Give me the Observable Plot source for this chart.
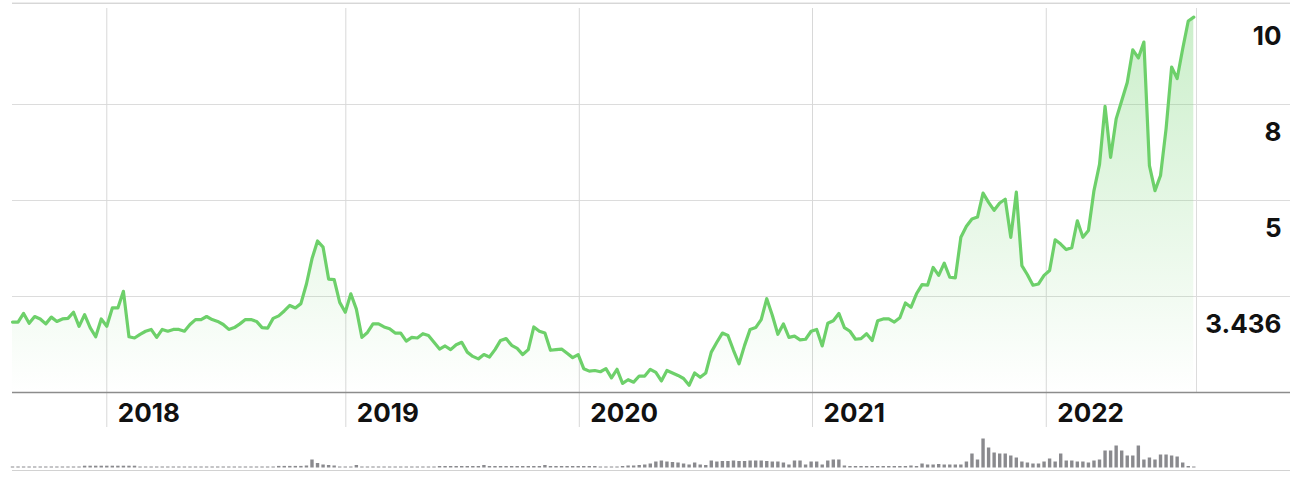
<!DOCTYPE html>
<html>
<head>
<meta charset="utf-8">
<script src="https://cdn.jsdelivr.net/npm/d3@7"></script>
<script src="https://cdn.jsdelivr.net/npm/@observablehq/plot@0.6"></script>
<style>
  html, body { margin: 0; padding: 0; background: #fff; }
  svg { display: block; }
</style>
</head>
<body>
<div id="chart"></div>
<script>
// Price per period
const prices = [
3.02,3.02,3.16,3.00,3.11,3.07,2.99,3.10,3.03,3.07,
3.08,3.18,2.95,3.14,2.93,2.78,3.07,2.95,3.25,3.25,
3.52,2.78,2.76,2.82,2.87,2.90,2.77,2.90,2.87,2.90,
2.90,2.87,2.98,3.06,3.06,3.11,3.06,3.03,2.98,2.90,
2.93,2.99,3.06,3.06,3.03,2.93,2.92,3.08,3.12,3.20,
3.29,3.25,3.32,3.64,4.05,4.34,4.24,3.72,3.71,3.34,
3.18,3.48,3.23,2.77,2.85,2.99,2.99,2.94,2.91,2.84,
2.84,2.71,2.77,2.76,2.83,2.80,2.69,2.58,2.63,2.57,
2.65,2.69,2.53,2.46,2.42,2.49,2.45,2.57,2.72,2.75,
2.64,2.59,2.49,2.57,2.94,2.87,2.84,2.56,2.57,2.58,
2.51,2.44,2.49,2.26,2.22,2.23,2.21,2.26,2.11,2.25,
2.02,2.08,2.04,2.14,2.14,2.25,2.20,2.06,2.23,2.19,
2.15,2.10,1.99,2.19,2.12,2.19,2.53,2.69,2.84,2.80,
2.56,2.34,2.64,2.90,2.93,3.06,3.40,3.13,2.82,2.99,
2.77,2.79,2.73,2.74,2.87,2.90,2.63,3.00,3.04,3.16,
2.93,2.87,2.74,2.75,2.83,2.72,3.04,3.07,3.07,3.02,
3.09,3.33,3.26,3.48,3.63,3.62,3.91,3.78,3.98,3.75,
3.74,4.40,4.58,4.70,4.73,5.23,4.97,4.84,4.96,5.04,
4.40,5.26,3.94,3.79,3.62,3.64,3.78,3.86,4.36,4.29,
4.20,4.23,4.67,4.40,4.51,5.31,6.13,7.94,6.35,7.55,
8.08,8.46,9.14,8.97,9.30,6.09,5.31,5.78,7.24,8.78,
8.54,9.16,9.74,9.82
];

// Volume per period (relative units)
const volume = [
1,1,1,1,1,1,1,1,1,1,1,1,1,
1.8,1.8,1.8,1.8,1.8,1.8,1.8,1.8,1.8,1.8,
1,1,1,1,1,1,1,1,1,1,1,1,1,1,1,1,1,1,1,1,1,1,1,1,1,
1.6,1.6,1.6,1.6,1.6,
2,8,4.5,3,2.5,2,
1,1,1,2.5,
1,1,1,1,1,1,1,1,1,1,1,1,1,1,
1.5,1.5,1.5,1.5,1.5,1.5,1.5,1.5,2.5,1.5,1.5,1.5,1.5,1.5,1.5,1.5,1.5,1.5,1.5,2.5,1.5,1.5,1.5,1.5,1.5,1.5,1.5,1.5,1.5,
1,1,1,1,1.5,2,2,2.5,3,4,6,7,6,5.5,5,4,3,5,3,2.5,7,6,6.5,6.5,7,6.5,6.5,7,7,7,6.5,6,6,5,3,7,7,3,6,6,3,7,8,8,2,
1.5,1.5,1.5,1.5,1.5,1.5,1.5,1.5,1.5,1.5,1.5,2,1.5,
4,3,3,3.5,3,3,3,3,6,14,8,
29,20,15,14,14,12,10,6,5,4,4,6,9,6,14,7,7,6,6,5,7,8,17,17,22,17,12,12,22,8,10,8,13,13,12,11,5,1.5,1
];

// Axis ticks and labels (the price axis is piecewise between its labelled levels)
const yLevels = [1.872, 3.436, 5, 8, 10];
const yTickValues = [10, 8, 5, 3.436];
const yTickLabels = ["10", "8", "5", "3.436"];
const gridValues = [8, 5, 3.436];
const yearPositions = [17, 60.1, 102.2, 144.25, 186.4];
const yearLabels = ["2018", "2019", "2020", "2021", "2022"];

// piecewise price -> grid level mapping, then a linear Plot scale over the levels
const level = d3.scaleLinear().domain(yLevels).range(yLevels.map((d, i) => i));
const lineColor = "#6dd06a";
const idx = (d, i) => i;
const textStyle = {fontSize: 26, fontWeight: 700, fontFamily: "Inter", fill: "#111"};

const main = Plot.plot({
  width: 1304,
  height: 430,
  marginTop: 8,
  marginBottom: 38,
  marginLeft: 12,
  marginRight: 14,
  x: {domain: [0, prices.length - 1], range: [12, 1193.3], axis: null},
  y: {domain: [0, yLevels.length - 1], axis: null},
  style: {background: "#fff"},
  marks: [
    Plot.ruleY(gridValues, {y: d => level(d), stroke: "#dcdcdc", strokeWidth: 1}),
    Plot.ruleY([10], {y: d => level(d), dy: -5.3, stroke: "#c6c6c6", strokeWidth: 1}),
    Plot.ruleX(yearPositions, {x: d => d, stroke: "#d8d8d8", strokeWidth: 1, insetBottom: -35}),
    Plot.ruleX([prices.length - 1], {x: d => d, dx: 2.7, stroke: "#dcdcdc", strokeWidth: 1}),
    Plot.areaY(prices, {x: idx, y1: () => 0, y2: d => level(d), fill: "url(#priceFill)"}),
    Plot.line(prices, {x: idx, y: d => level(d), stroke: lineColor, strokeWidth: 3.2, strokeLinejoin: "round", strokeLinecap: "round"}),
    Plot.ruleY([yLevels[0]], {y: d => level(d), stroke: "#8c8c8c", strokeWidth: 1.3}),
    Plot.text(yTickValues, {y: d => level(d), text: (d, i) => yTickLabels[i], frameAnchor: "right", dx: -9, dy: 28,
      textAnchor: "end", ...textStyle}),
    Plot.text(yearPositions, {x: d => d, text: (d, i) => yearLabels[i], frameAnchor: "bottom", dx: 11, dy: 29,
      textAnchor: "start", ...textStyle})
  ]
});

const defs = d3.select(main).insert("defs", ":first-child");
const grad = defs.append("linearGradient")
  .attr("id", "priceFill")
  .attr("gradientUnits", "userSpaceOnUse")
  .attr("x1", 0).attr("y1", 8).attr("x2", 0).attr("y2", 392);
grad.append("stop").attr("offset", "0%").attr("stop-color", "#73d371").attr("stop-opacity", 0.38);
grad.append("stop").attr("offset", "100%").attr("stop-color", "#73d371").attr("stop-opacity", 0.0);

const vol = Plot.plot({
  width: 1304,
  height: 56,
  marginTop: 0,
  marginBottom: 0,
  marginLeft: 12,
  marginRight: 14,
  x: {domain: [0, prices.length - 1], range: [12, 1193.3], axis: null},
  y: {domain: [0, 29], range: [37.5, 8.5], axis: null},
  marks: [
    Plot.ruleY([0], {y: d => d, dy: 2.5, stroke: "#d2d2d2", strokeWidth: 1}),
    Plot.ruleX(volume, {x: idx, y1: () => 0, y2: d => d, stroke: "#8a8a8e", strokeWidth: 3.4})
  ]
});

document.getElementById("chart").append(main, vol);
</script>
</body>
</html>
